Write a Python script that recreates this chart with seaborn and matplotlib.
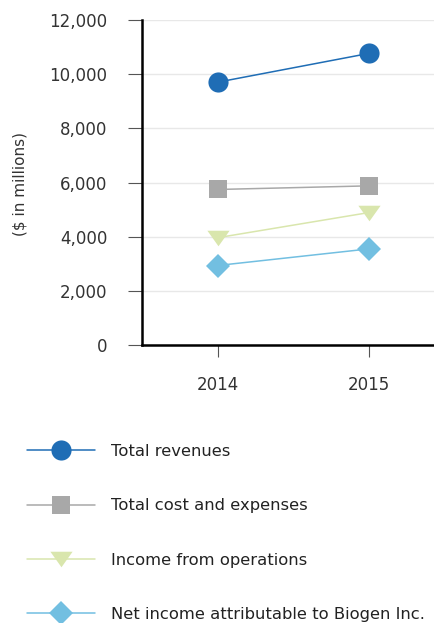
import pandas as pd
import matplotlib.pyplot as plt
import seaborn as sns

years = ["2014", "2015"]
series_names = ["Total revenues", "Total cost and expenses",
                "Income from operations", "Net income attributable to Biogen Inc."]
total_revenues = [9703, 10764]
total_costs = [5742, 5876]
income_operations = [3961, 4888]
net_income = [2935, 3547]

colors = ["#1f6db5", "#a8a8a8", "#d9e6ad", "#72bfe1"]
# wide, flat down-triangle like the original
flat_tri = [(-1, 0.7), (1, 0.7), (0, -0.7)]
markers = ["o", "s", flat_tri, "D"]
sizes = [14.5, 13.5, 16, 12.5]

# build long table for seaborn
values = [total_revenues, total_costs, income_operations, net_income]
rows = []
for name, vals in zip(series_names, values):
    for yr, v in zip(years, vals):
        rows.append({"year": yr, "value": v, "series": name})
df = pd.DataFrame(rows)
df["x"] = df["year"].map({y: i for i, y in enumerate(years)})

sns.set_style("white")
plt.rcParams['font.family'] = ['DejaVu Sans']

W, H = 435, 623
fig = plt.figure(figsize=(W / 100, H / 100), dpi=100)
ax = fig.add_axes([142 / W, 1 - 345 / H, 1 - 142 / W, 325 / H])

for name, c, m, s in zip(series_names, colors, markers, sizes):
    sub = df[df["series"] == name]
    sns.lineplot(data=sub, x="x", y="value", ax=ax, color=c, marker=m,
                 markersize=s, markeredgewidth=0, linewidth=1.1, label=name,
                 zorder=3)

ax.set_xlim(-0.5, 1.44)
ax.set_ylim(0, 12000)
ax.set_xticks([0, 1])
ax.set_xticklabels(years)
ax.set_yticks(range(0, 12001, 2000))
ax.set_yticklabels([f"{v:,}" for v in range(0, 12001, 2000)])
ax.set_xlabel("")
ax.set_ylabel("($ in millions)", fontsize=11, color="#333333")
ax.yaxis.set_label_coords(28 / W, 1 - 184 / H, transform=fig.transFigure)

ax.grid(axis="y", color="#e8e8e8", linewidth=1, zorder=0)
ax.set_axisbelow(True)
for side in ["top", "right"]:
    ax.spines[side].set_visible(False)
for side in ["left", "bottom"]:
    ax.spines[side].set_color("black")
    ax.spines[side].set_linewidth(1.8)

ax.tick_params(axis="y", direction="out", length=10, width=0.8, color="#555555",
               labelsize=12, labelcolor="#333333", pad=15, left=True)
ax.tick_params(axis="x", direction="out", length=8.5, width=0.8, color="#555555",
               labelsize=12, labelcolor="#333333", pad=14, bottom=True)

ax.get_legend().remove()
h, l = ax.get_legend_handles_labels()
fig.legend(h, l, loc="upper left", bbox_to_anchor=(27 / W, 1 - 444 / H),
           frameon=False, fontsize=11.8, handlelength=4.15, labelspacing=2.4,
           handletextpad=1.0, borderpad=0, borderaxespad=0,
           labelcolor="#222222")

fig.savefig("out.png", dpi=100)
